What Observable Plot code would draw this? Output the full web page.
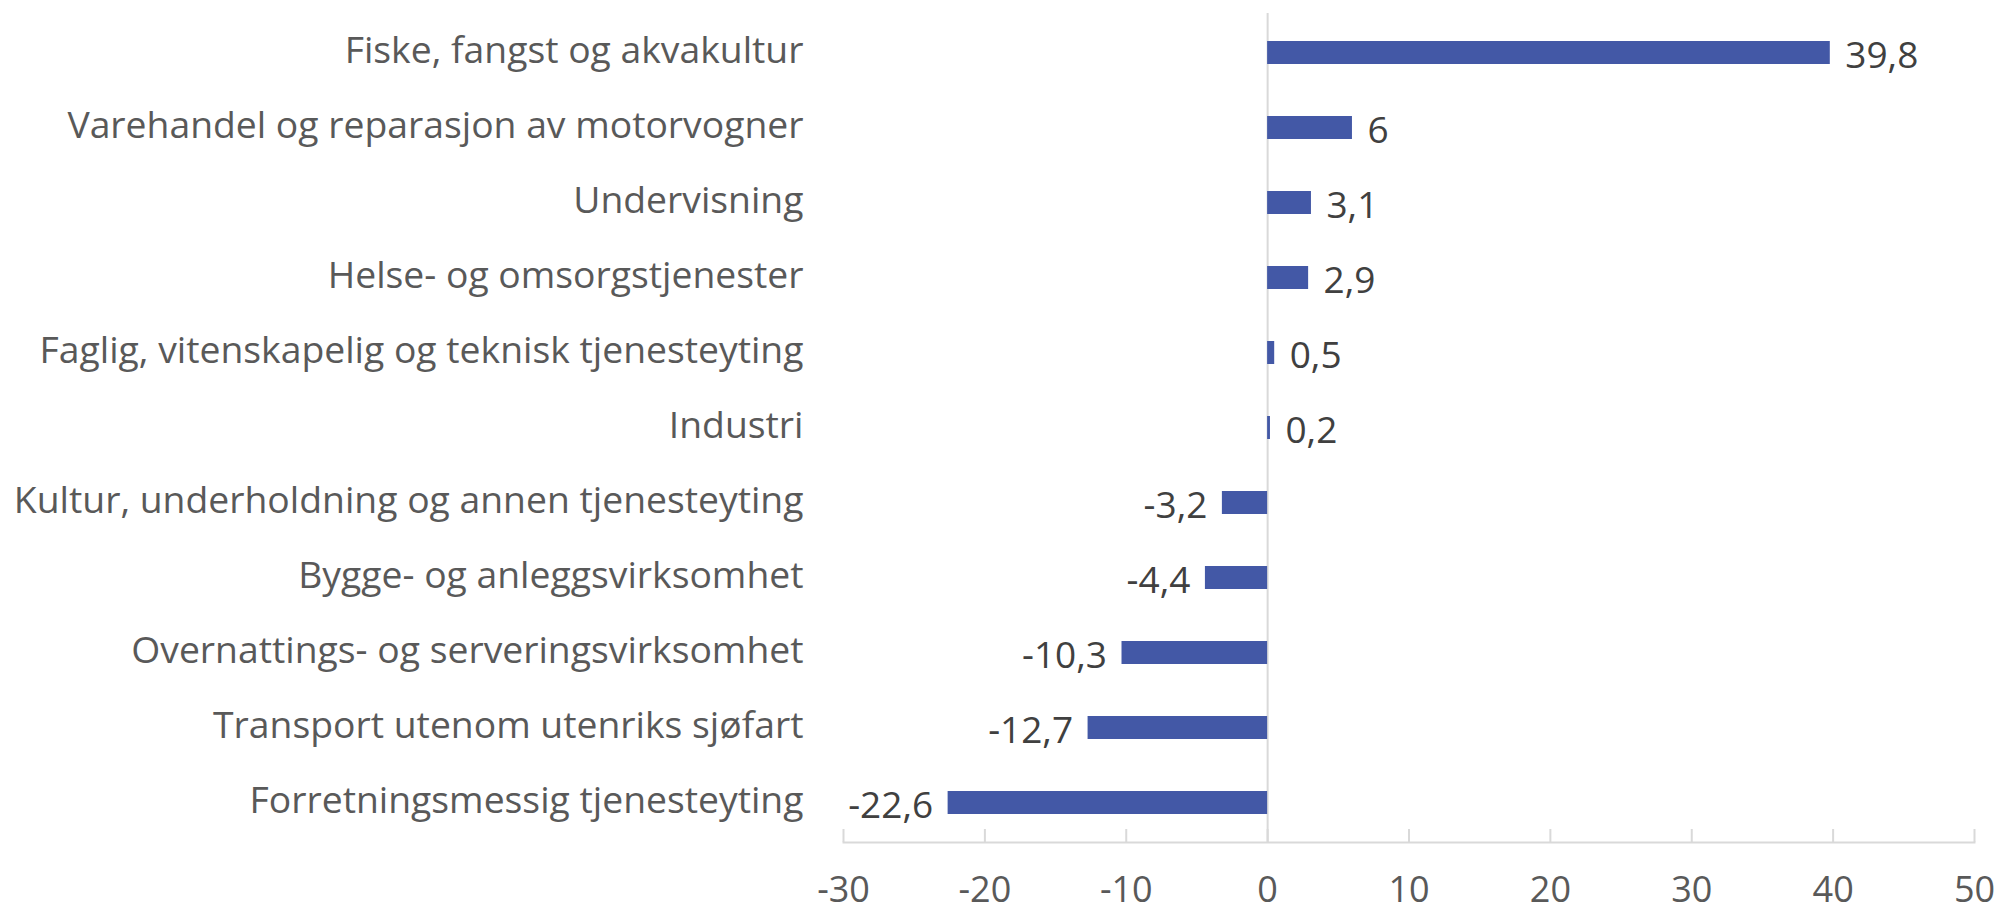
<!DOCTYPE html>
<html>
<head>
<meta charset="utf-8">
<script src="https://cdn.jsdelivr.net/npm/d3@7"></script>
<script src="https://cdn.jsdelivr.net/npm/@observablehq/plot@0.6"></script>
<style>
  html, body { margin: 0; padding: 0; background: #ffffff; }
  #chart svg { display: block; }
</style>
</head>
<body>
<div id="chart"></div>
<script>
const categories = [
  "Fiske, fangst og akvakultur",
  "Varehandel og reparasjon av motorvogner",
  "Undervisning",
  "Helse- og omsorgstjenester",
  "Faglig, vitenskapelig og teknisk tjenesteyting",
  "Industri",
  "Kultur, underholdning og annen tjenesteyting",
  "Bygge- og anleggsvirksomhet",
  "Overnattings- og serveringsvirksomhet",
  "Transport utenom utenriks sjøfart",
  "Forretningsmessig tjenesteyting"
];
const values = [39.8, 6, 3.1, 2.9, 0.5, 0.2, -3.2, -4.4, -10.3, -12.7, -22.6];
const xTicks = [-30, -20, -10, 0, 10, 20, 30, 40, 50];

const data = categories.map((c, i) => ({category: c, value: values[i]}));
const fmt = v => String(v).replace(".", ",");
const gridColor = "#d9d9d9";

const chart = Plot.plot({
  width: 2001,
  height: 913,
  marginLeft: 843,
  marginRight: 27,
  marginTop: 13,
  marginBottom: 71,
  style: {fontFamily: "'Open Sans', sans-serif", color: "#595959", background: "#ffffff"},
  x: {domain: [-30, 50], ticks: xTicks},
  y: {domain: categories, paddingInner: 0.69, paddingOuter: 0.345},
  marks: [
    Plot.frame({anchor: "bottom", stroke: gridColor, strokeWidth: 2}),
    Plot.ruleX(xTicks, {x: d => d, stroke: gridColor, strokeWidth: 2, insetTop: 816}),
    Plot.ruleX([0], {stroke: gridColor, strokeWidth: 2}),
    Plot.barX(data, {x: "value", y: "category", fill: "#4358a6"}),
    Plot.text(data.filter(d => d.value >= 0), {
      x: "value", y: "category", text: d => fmt(d.value),
      textAnchor: "start", dx: 15, dy: 3, fontSize: 37, fill: "#404040"
    }),
    Plot.text(data.filter(d => d.value < 0), {
      x: "value", y: "category", text: d => fmt(d.value),
      textAnchor: "end", dx: -15, dy: 3, fontSize: 37, fill: "#404040"
    }),
    Plot.axisX({ticks: xTicks, tickSize: 0, tickPadding: 34, fontSize: 36, tickFormat: d => String(d), label: null}),
    Plot.axisY({tickSize: 0, tickPadding: 40, fontSize: 37.3, label: null, dy: -2})
  ]
});
document.getElementById("chart").appendChild(chart);
</script>
</body>
</html>
